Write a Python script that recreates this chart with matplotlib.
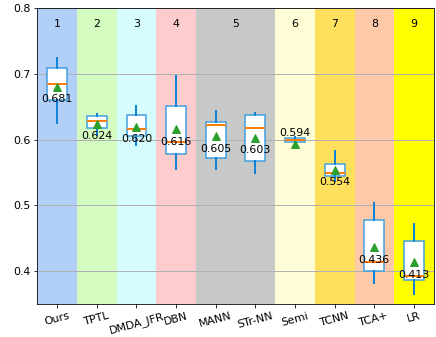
import numpy as np
import matplotlib
matplotlib.use("Agg")
import matplotlib.pyplot as plt

# Methods and box statistics (accuracy)
methods = ["Ours", "TPTL", "DMDA_JFR", "DBN", "MANN", "STr-NN", "Semi", "TCNN", "TCA+", "LR"]
groups = [1, 2, 3, 4, 5, 5, 6, 7, 8, 9]
whislo = [0.625, 0.607, 0.592, 0.556, 0.555, 0.549, 0.594, 0.537, 0.382, 0.365]
q1 = [0.660, 0.618, 0.605, 0.578, 0.572, 0.568, 0.596, 0.545, 0.400, 0.386]
med = [0.685, 0.629, 0.616, 0.597, 0.623, 0.618, 0.599, 0.550, 0.414, 0.392]
q3 = [0.709, 0.636, 0.637, 0.651, 0.627, 0.637, 0.603, 0.563, 0.478, 0.446]
whishi = [0.724, 0.639, 0.651, 0.697, 0.643, 0.641, 0.604, 0.583, 0.504, 0.471]
means = [0.681, 0.624, 0.620, 0.616, 0.605, 0.603, 0.594, 0.554, 0.436, 0.413]

group_colors = ["#b1cff7", "#d4fcc0", "#d6fdfd", "#fdcccc", "#c6c9c8",
                "#fefdd5", "#fee05c", "#fdc9a8", "#ffff00"]

fig = plt.figure(figsize=(436 / 72, 337 / 72), dpi=72)
ax = fig.add_axes([0.0856, 0.0985, 0.9094, 0.8765])

positions = np.arange(1, len(methods) + 1)
fs = 11

# coloured background band per group, with the group number on top
for g, col in enumerate(group_colors, start=1):
    idx = [i for i, gg in enumerate(groups) if gg == g]
    lo = positions[idx[0]] - 0.5
    hi = positions[idx[-1]] + 0.5
    ax.axvspan(lo, hi, color=col, zorder=0, lw=0)
    ax.text((lo + hi) / 2, 0.776, str(g), ha="center", va="center", fontsize=fs)

stats = []
for i in range(len(methods)):
    stats.append(dict(whislo=whislo[i], q1=q1[i], med=med[i], q3=q3[i],
                      whishi=whishi[i], mean=means[i], fliers=[]))

ax.bxp(stats, positions=positions, widths=0.5, showmeans=True, showcaps=False,
       patch_artist=True, manage_ticks=False,
       boxprops=dict(facecolor="white", edgecolor="#3d9fe0", linewidth=1.5),
       whiskerprops=dict(color="#1184d8", linewidth=2),
       medianprops=dict(color="#ff7f0e", linewidth=2),
       meanprops=dict(marker="^", markerfacecolor="#2ca02c",
                      markeredgecolor="#2ca02c", markersize=8))

for i, m in enumerate(means):
    dy = 0.016 if methods[i] == "Semi" else -0.019
    ax.text(positions[i], m + dy, f"{m:.3f}", ha="center", va="center", fontsize=fs)

ax.set_xlim(0.5, len(methods) + 0.5)
ax.set_ylim(0.35, 0.8)
ax.set_yticks([0.4, 0.5, 0.6, 0.7, 0.8])
ax.set_xticks(positions)
ax.set_xticklabels(methods, rotation=15)
ax.yaxis.grid(True, color="#b0b0b0", linewidth=1)
ax.tick_params(labelsize=fs)

fig.savefig("out.png", dpi=72)
